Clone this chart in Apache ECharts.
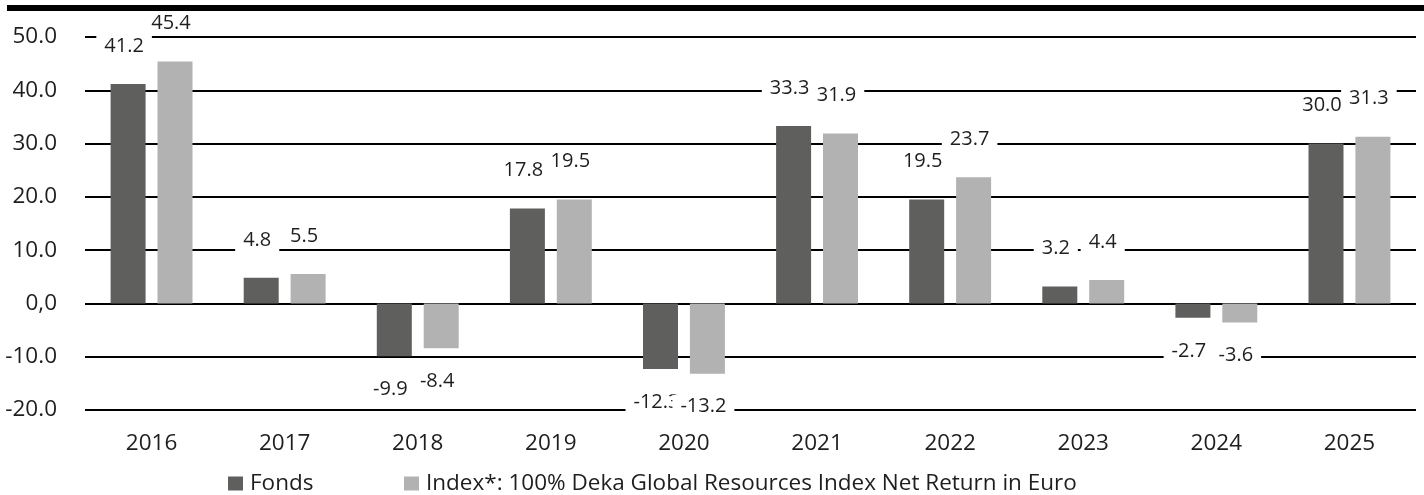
<!DOCTYPE html>
<html>
<head>
<meta charset="utf-8">
<script src="https://cdn.jsdelivr.net/npm/echarts@6/dist/echarts.min.js"></script>
<style>
  html, body { margin: 0; padding: 0; background: #fff; }
  #chart { width: 1424px; height: 495px; }
</style>
</head>
<body>
<div id="chart"></div>
<script>
const years = ['2016', '2017', '2018', '2019', '2020', '2021', '2022', '2023', '2024', '2025'];
const fonds = [41.2, 4.8, -9.9, 17.8, -12.3, 33.3, 19.5, 3.2, -2.7, 30.0];
const index = [45.4, 5.5, -8.4, 19.5, -13.2, 31.9, 23.7, 4.4, -3.6, 31.3];
const fondsName = 'Fonds';
const indexName = 'Index*: 100% Deka Global Resources Index Net Return in Euro';

const font = '"Open Sans", "Noto Sans", sans-serif';
const textColor = '#1e1e1e';

// positive values get the label above, negative below
const withLabels = (arr) => arr.map((v) => ({
  value: v,
  label: v < 0 ? { position: 'bottom', distance: 21 } : { position: 'top', distance: 26 },
}));

const labelStyle = {
  show: true,
  formatter: (p) => p.value.toFixed(1),
  color: textColor,
  fontFamily: font,
  fontSize: 20,
  backgroundColor: '#fff',
  padding: [2, 8],
  offset: [-4, 0],
};

const legendBase = {
  bottom: -5,
  itemWidth: 15,
  itemHeight: 14,
  itemGap: 6,
  icon: 'rect',
  textStyle: { color: textColor, fontFamily: font, fontSize: 22.5, padding: [0, 0, 0, 2] },
};

const chart = echarts.init(document.getElementById('chart'));
chart.setOption({
  animation: false,
  grid: { left: 85, right: 8, top: 37, bottom: 85 },
  legend: [
    Object.assign({}, legendBase, { left: 223, data: [fondsName] }),
    Object.assign({}, legendBase, { left: 399, data: [indexName] }),
  ],
  xAxis: {
    type: 'category',
    data: years,
    axisLine: { show: false },
    axisTick: { show: false },
    axisLabel: { color: textColor, fontFamily: font, fontSize: 22.5, margin: 22 },
  },
  yAxis: {
    type: 'value',
    min: -20,
    max: 50,
    interval: 10,
    axisLine: { show: false },
    axisTick: { show: false },
    axisLabel: {
      color: textColor,
      fontFamily: font,
      fontSize: 22.5,
      margin: 28,
      formatter: (v) => (v === 0 ? '0,0' : v.toFixed(1)),
    },
    splitLine: { lineStyle: { color: '#000', width: 2 } },
  },
  graphic: [
    { type: 'rect', left: 7, top: 5, shape: { width: 1417, height: 6 }, style: { fill: '#000' } },
  ],
  series: [
    {
      name: fondsName,
      type: 'bar',
      data: withLabels(fonds),
      barWidth: 35,
      barGap: '34%',
      itemStyle: { color: '#5f5f5e' },
      label: labelStyle,
    },
    {
      name: indexName,
      type: 'bar',
      data: withLabels(index),
      barWidth: 35,
      itemStyle: { color: '#b2b2b2' },
      label: labelStyle,
    },
  ],
});
</script>
</body>
</html>
